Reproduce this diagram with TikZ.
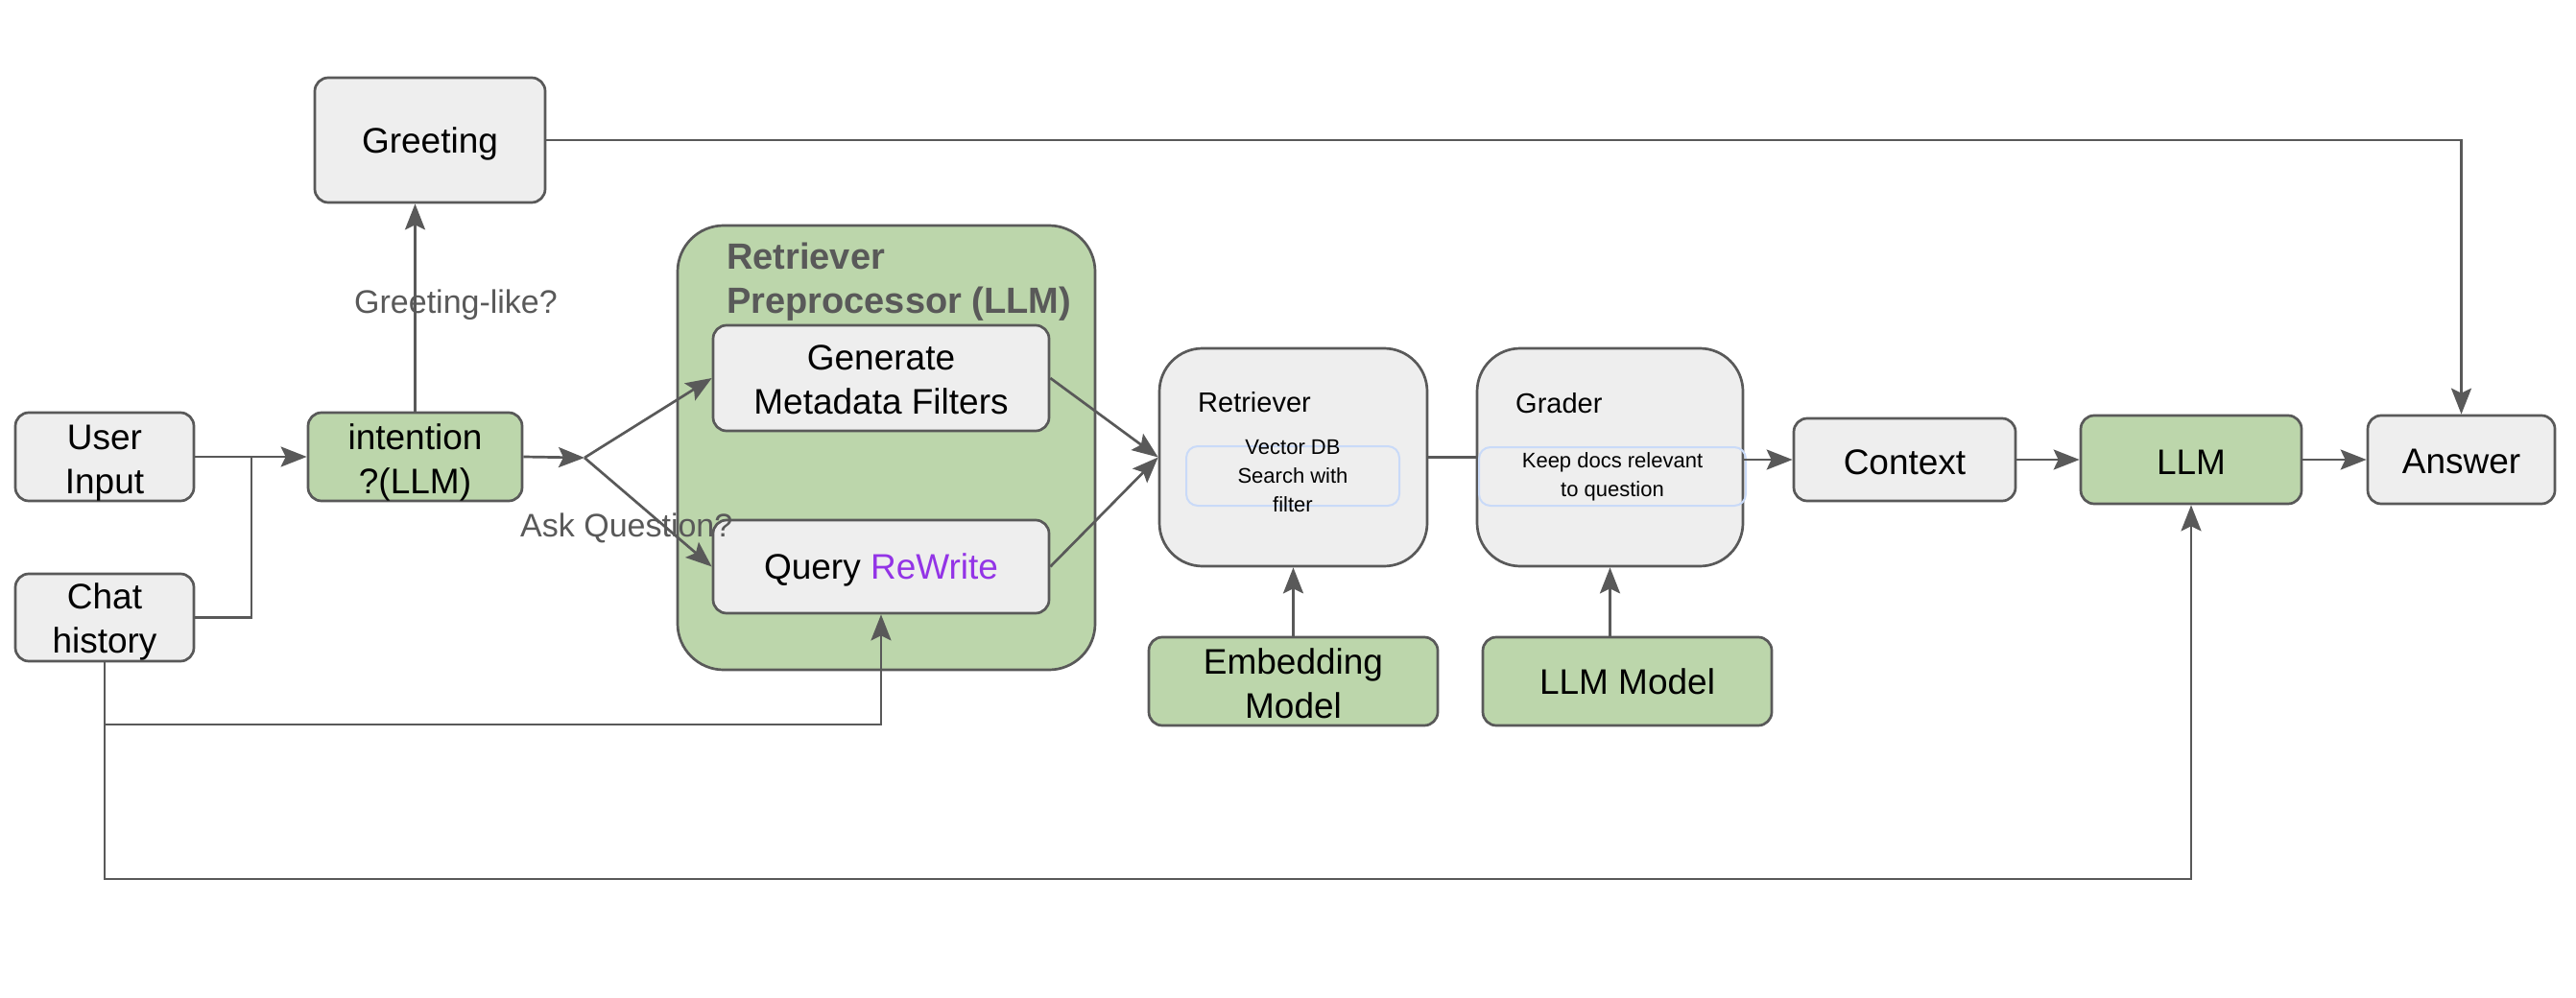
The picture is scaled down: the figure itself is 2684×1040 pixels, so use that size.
\documentclass[tikz,border=0pt]{standalone}
\usepackage{fontspec}
\setmainfont{Liberation Sans}
\usetikzlibrary{arrows.meta}
\definecolor{linec}{HTML}{595959}
\definecolor{boxgray}{HTML}{EEEEEE}
\definecolor{boxgreen}{HTML}{BCD6AB}
\definecolor{rwpurple}{HTML}{9334E6}
\definecolor{innerblue}{HTML}{C9DAF8}
\newcommand\txtdn[1]{\rule{0pt}{#1}}
\tikzset{
  box/.style={draw=linec, line width=2.7pt, rounded corners=14pt, fill=boxgray, inner sep=0pt,
    align=center, font=\fontsize{37}{46}\selectfont},
  gbox/.style={box, fill=boxgreen},
  bigbox/.style={draw=linec, line width=2.7pt, rounded corners=45pt, fill=boxgray, inner sep=0pt},
  innerbox/.style={draw=innerblue, line width=2pt, rounded corners=12pt, inner sep=0pt},
  smalltxt/.style={inner sep=0pt, align=center, font=\fontsize{22}{30}\selectfont},
  titletxt/.style={inner sep=0pt, anchor=base west, font=\fontsize{29}{35}\selectfont},
  lbl/.style={inner sep=0pt, text=linec, font=\fontsize{34}{40}\selectfont},
  conn/.style={draw=linec, line width=2.7pt},
  arr/.style={conn, -{Stealth[length=27pt,width=21pt,inset=5pt]}},
}
\begin{document}
\begin{tikzpicture}[x=1pt,y=-1pt]
\useasboundingbox (0,0) rectangle (2684,1040);

% container
\node[draw=linec, line width=2.7pt, rounded corners=48pt, fill=boxgreen, minimum width=435pt, minimum height=463pt, inner sep=0pt] (cont) at (923.5,466.5) {};
\node[inner sep=0pt, anchor=north west, align=left, text=linec, font=\bfseries\fontsize{38}{46}\selectfont] (conttitle) at (757,253) {Retriever\\Preprocessor (LLM)};

% nodes
\node[box, minimum width=240pt, minimum height=130pt] (greet) at (448,146) {\txtdn{34pt}Greeting};
\node[box, minimum width=186pt, minimum height=92pt] (user) at (109,476) {\txtdn{38pt}User\\Input};
\node[box, minimum width=186pt, minimum height=91pt] (chat) at (109,643.5) {\txtdn{36pt}Chat\\history};
\node[gbox, minimum width=223pt, minimum height=92pt] (intent) at (432.5,476) {\txtdn{38pt}intention\\?(LLM)};
\node[box, minimum width=350pt, minimum height=110pt] (gen) at (918,394) {\txtdn{30pt}Generate\\Metadata Filters};
\node[box, minimum width=350pt, minimum height=97pt] (query) at (918,590.5) {\txtdn{33pt}Query \textcolor{rwpurple}{ReWrite}};

\node[bigbox, minimum width=279pt, minimum height=227pt] (ret) at (1347.5,476.5) {};
\node[titletxt] (rettitle) at (1248,429) {Retriever};
\node[innerbox, minimum width=222pt, minimum height=62pt] (vbox) at (1347,496) {};
\node[smalltxt] (vtxt) at (vbox.center) {Vector DB\\Search with\\filter};

\node[bigbox, minimum width=277pt, minimum height=227pt] (grader) at (1677.5,476.5) {};
\node[titletxt] (gradtitle) at (1579,430) {Grader};
\node[innerbox, minimum width=278pt, minimum height=61pt] (kbox) at (1680,496.5) {};
\node[smalltxt] (ktxt) at (kbox.center) {Keep docs relevant\\to question};

\node[gbox, minimum width=301pt, minimum height=92pt] (emb) at (1347.5,710) {\txtdn{32pt}Embedding\\Model};
\node[gbox, minimum width=301pt, minimum height=92pt] (llmm) at (1695.5,710) {LLM Model};

\node[box, minimum width=231pt, minimum height=86pt] (context) at (1984.5,479) {\txtdn{30.5pt}Context};
\node[gbox, minimum width=230pt, minimum height=92pt] (llm) at (2283,479) {\txtdn{30pt}LLM};
\node[box, minimum width=195pt, minimum height=92pt] (ans) at (2564.5,479) {\txtdn{30pt}Answer};

% coordinates
\coordinate (j1) at (262,476);
\coordinate (fork) at (609,477);
\coordinate (qb) at (918,755);
\coordinate (lb) at (2283,916);

% connectors
\draw[arr] (user.east) -- (intent.west);
\draw[conn] (chat.east) -| (j1);
\draw[arr] (intent.east) -- (fork);
\draw[arr] (fork) -- (gen.west);
\draw[arr] (fork) -- (query.west);
\draw[arr] (intent.north) -- (intent.north |- greet.south);
\draw[arr] (greet.east) -| (ans.north);
\draw[arr] (gen.east) -- (ret.west);
\draw[arr] (query.east) -- (ret.west);
\draw[conn] (ret.east) -- (grader.west);
\draw[arr] (emb.north) -- (ret.south);
\draw[arr] (grader.south |- llmm.north) -- (grader.south);
\draw[arr] (grader.east |- context.west) -- (context.west);
\draw[arr] (context.east) -- (llm.west);
\draw[arr] (llm.east) -- (ans.west);
\draw[arr] (chat.south) |- (qb) -- (query.south);
\draw[arr] (chat.south) |- (lb) -- (llm.south);

% labels
\node[lbl, anchor=base] (lgreet) at (475,327) {Greeting-like?};
\node[lbl, anchor=base west] (lask) at (542,559) {Ask Question?};
\end{tikzpicture}
\end{document}
